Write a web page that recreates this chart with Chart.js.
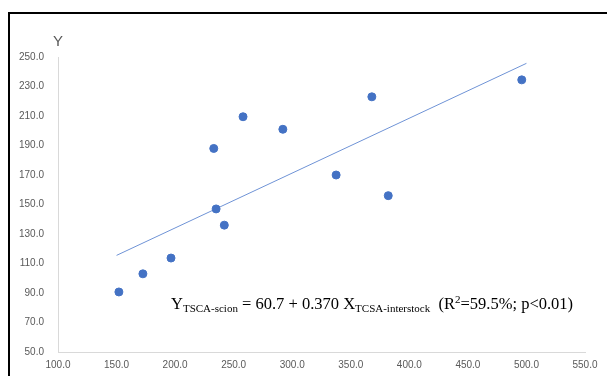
<!DOCTYPE html>
<html>
<head>
<meta charset="utf-8">
<script src="https://cdn.jsdelivr.net/npm/chart.js@4"></script>
<style>
  body { margin:0; background:#fff; }
  #wrap { position:relative; width:607px; height:376px; }
  #frame { position:absolute; left:8px; top:12px; width:620px; height:400px;
           border-top:2px solid #000; border-left:2px solid #000; }
  #ylab { position:absolute; left:53px; top:32px; font:15px "Liberation Sans", sans-serif; color:#595959; }
  #eq { position:absolute; left:171px; top:294px; font:16.5px "Liberation Serif", serif; color:#000; white-space:nowrap; }
  #eq sub { font-size:11px; vertical-align:-3px; line-height:0; }
  #eq sup { font-size:11px; vertical-align:6px; line-height:0; }
</style>
</head>
<body>
<div id="wrap">
  <canvas id="c" width="607" height="376"></canvas>
  <div id="frame"></div>
  <div id="ylab">Y</div>
  <div id="eq">Y<sub>TSCA-scion</sub> = 60.7 + 0.370 X<sub>TCSA-interstock</sub>&nbsp; (R<sup>2</sup>=59.5%; p&lt;0.01)</div>
</div>
<script>
// 관측값 (TCSA interstock, TSCA scion)
const xVals = [152, 172.5, 196.5, 233, 235, 242, 258, 292, 337.5, 368, 382, 496];
const yVals = [90.7, 103, 113.7, 188, 147, 136, 209.5, 201, 170, 223, 156, 234.5];
// 추세선 양 끝
const trendX = [150, 500];
const trendY = [115.5, 245.7];

const blue = '#4472C4';

const pts = xVals.map((x, i) => ({x: x, y: yVals[i]}));
const trend = trendX.map((x, i) => ({x: x, y: trendY[i]}));

const tickFont = {family: '"Liberation Sans", sans-serif', size: 10};

new Chart(document.getElementById('c'), {
  type: 'scatter',
  data: {
    datasets: [{
      data: pts,
      backgroundColor: blue,
      borderColor: blue,
      pointRadius: 4,
      pointHoverRadius: 4
    }, {
      data: trend,
      showLine: true,
      borderColor: '#6f93d6',
      borderWidth: 1,
      pointRadius: 0,
      fill: false
    }]
  },
  options: {
    responsive: false,
    animation: false,
    plugins: { legend: {display: false}, tooltip: {enabled: false} },
    layout: { padding: {top: 57, right: 22, left: 0, bottom: 0} },
    scales: {
      x: {
        type: 'linear', min: 100, max: 550,
        ticks: { stepSize: 50, color: '#595959', font: tickFont, padding: 7,
                 callback: v => v.toFixed(1) },
        grid: { display: false, drawTicks: false },
        border: { color: '#d9d9d9', width: 1 },
        afterFit: s => { s.height = 24; }
      },
      y: {
        min: 50, max: 250,
        ticks: { stepSize: 20, color: '#595959', font: tickFont, padding: 14,
                 callback: v => v.toFixed(1) },
        grid: { display: false, drawTicks: false },
        border: { color: '#d9d9d9', width: 1 },
        afterFit: s => { s.width = 58; }
      }
    }
  }
});
</script>
</body>
</html>
